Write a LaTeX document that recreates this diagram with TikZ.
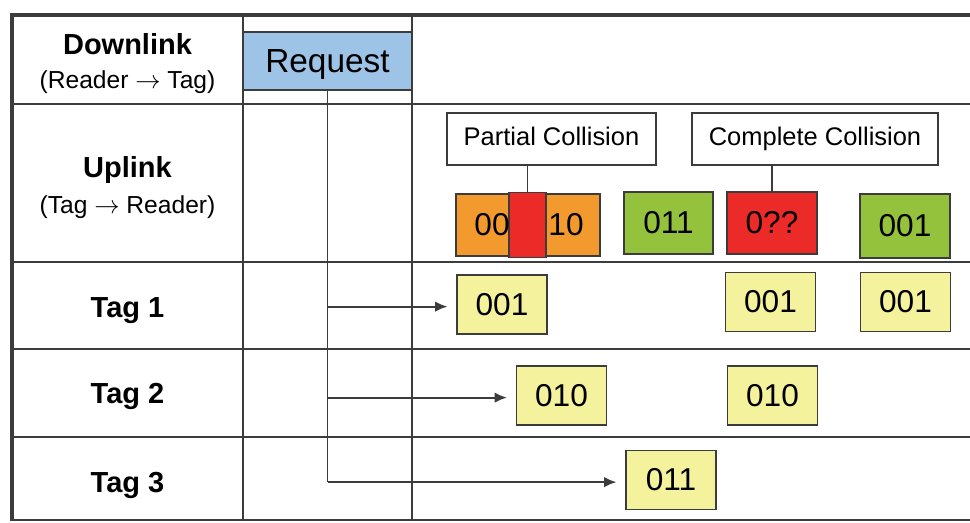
\documentclass[tikz,border=0pt]{standalone}
\usepackage{fontspec}
\setmainfont{Liberation Sans}
\usetikzlibrary{arrows.meta}
\definecolor{reqblue}{HTML}{9DC3E6}
\definecolor{tagyellow}{HTML}{F5F29E}
\definecolor{okgreen}{HTML}{95C23D}
\definecolor{hitred}{HTML}{EC2A27}
\definecolor{partorange}{HTML}{F39A2E}
\definecolor{gridgray}{HTML}{3C3C3C}
\tikzset{
  grid/.style={draw=gridgray, line width=1.1pt},
  frame/.style={draw=gridgray, line width=2.3pt},
  slot/.style={draw=gridgray, line width=0.9pt, inner sep=0pt, minimum width=1.8cm, minimum height=1.18cm, font=\fontsize{18}{20}\selectfont},
  note/.style={draw=gridgray, fill=white, line width=0.9pt, inner sep=0pt, minimum height=1.04cm, text height=0.72em, text depth=0pt, font=\fontsize{14.5}{17}\selectfont},
  head/.style={anchor=base, font=\fontsize{16.5}{19}\selectfont\bfseries},
  sub/.style={anchor=base, font=\fontsize{14}{16}\selectfont},
  link/.style={draw=gridgray, line width=1.1pt}
}
\begin{document}
\begin{tikzpicture}[x=0.02cm,y=-0.02cm]
  \useasboundingbox (0,0) rectangle (970,522);
  % table
  \foreach \r in {104,262,349,437,520}
    \draw[grid] (12,\r) -- (970,\r);
  \foreach \c in {243,412}
    \draw[grid] (\c,15) -- (\c,520);
  \draw[frame] (12,521) -- (12,15) -- (970,15);
  % row heads
  \node[head] (dl) at (127.5,54) {Downlink};
  \node[sub] (dlsub) at (127.5,88) {(Reader $\rightarrow$ Tag)};
  \node[head] (ul) at (127.5,177) {Uplink};
  \node[sub] (ulsub) at (127.5,213) {(Tag $\rightarrow$ Reader)};
  \node[head] (tag1) at (127.5,317) {Tag 1};
  \node[head] (tag2) at (127.5,403) {Tag 2};
  \node[head] (tag3) at (127.5,492) {Tag 3};
  % request
  \node[slot, fill=reqblue, minimum width=3.38cm, minimum height=1.16cm, text depth=0pt, font=\fontsize{19}{21}\selectfont] (req) at (327.5,61) {Request};
  % tag replies
  \node[slot, fill=tagyellow] (t1a) at (502,304.5) {001};
  \node[slot, fill=tagyellow] (t1b) at (770.5,302) {001};
  \node[slot, fill=tagyellow] (t1c) at (905.5,302) {001};
  \node[slot, fill=tagyellow] (t2a) at (561.5,395.5) {010};
  \node[slot, fill=tagyellow] (t2b) at (772.5,395.5) {010};
  \node[slot, fill=tagyellow] (t3a) at (671,480) {011};
  % uplink
  \node[slot, fill=partorange, minimum width=2.88cm, minimum height=1.24cm] (mix) at (528,225) {};
  \node[slot, fill=hitred, minimum width=0.74cm, minimum height=1.3cm] (gap) at (527.5,225) {};
  \node[font=\fontsize{18}{20}\selectfont] (mixl) at (492,225) {00};
  \node[font=\fontsize{18}{20}\selectfont] (mixr) at (566,225) {10};
  \node[slot, fill=okgreen, minimum width=1.78cm, minimum height=1.24cm] (u011) at (668.5,223) {011};
  \node[slot, fill=hitred, minimum height=1.24cm] (u0qq) at (772,223) {0??};
  \node[slot, fill=okgreen, minimum height=1.28cm] (u001) at (905,226) {001};
  % collision notes
  \node[note, minimum width=4.18cm] (pc) at (551.5,139) {Partial Collision};
  \node[note, minimum width=4.92cm] (cc) at (815,139) {Complete Collision};
  \draw[link] (gap.north) -- (gap.north |- pc.south);
  \draw[link] (u0qq.north) -- (u0qq.north |- cc.south);
  % request to tags
  \draw[link] (req.south) -- ([yshift=-1.2pt]req.south |- t3a.west);
  \foreach \t in {t1a,t2a,t3a}
    \draw[link, -{Latex[length=7pt,width=6pt]}, shorten >=5pt] ([yshift=-1.2pt]req.south |- \t.west) -- ([yshift=-1.2pt]\t.west);
\end{tikzpicture}
\end{document}
